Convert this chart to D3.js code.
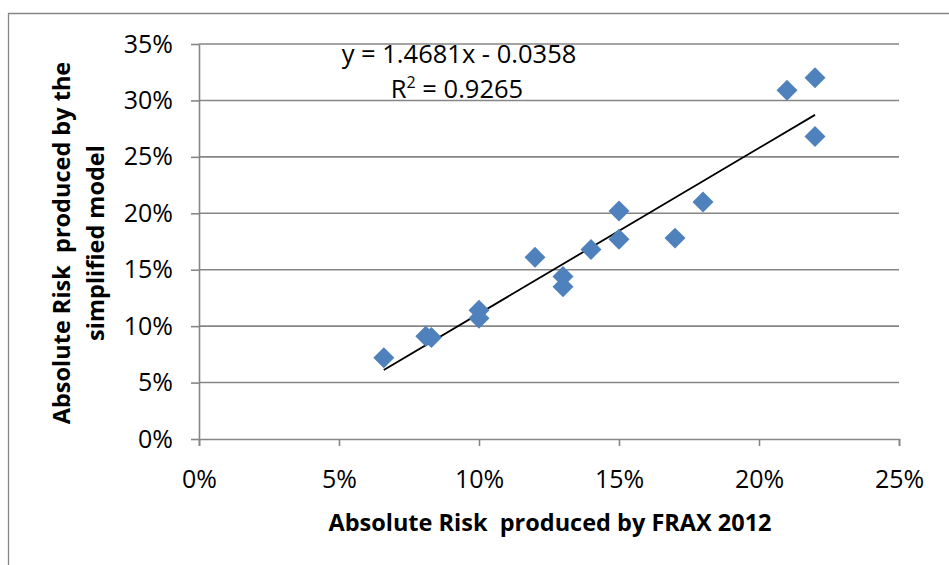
<!DOCTYPE html>
<html>
<head>
<meta charset="utf-8">
<script src="https://cdn.jsdelivr.net/npm/d3@7"></script>
<style>
  body { margin: 0; background: #fff; }
  svg { display: block; font-family: 'Open Sans', sans-serif; }
</style>
</head>
<body>
<div id="chart"></div>
<script>
// FRAX 2012 absolute risk vs simplified model (fractions)
const fraxRisk = [0.066, 0.081, 0.083, 0.100, 0.100, 0.120, 0.130, 0.130,
                  0.140, 0.150, 0.150, 0.170, 0.180, 0.210, 0.220, 0.220];
const modelRisk = [0.072, 0.091, 0.090, 0.114, 0.107, 0.161, 0.144, 0.135,
                   0.168, 0.202, 0.177, 0.178, 0.210, 0.309, 0.320, 0.268];
const xTicks = [0, 0.05, 0.10, 0.15, 0.20, 0.25];
const yTicks = [0, 0.05, 0.10, 0.15, 0.20, 0.25, 0.30, 0.35];
const slope = 1.4681;
const intercept = -0.0358;
const equationLabel = 'y = 1.4681x - 0.0358';
const r2Value = '0.9265';
const xTitle = 'Absolute Risk  produced by FRAX 2012';
const yTitleLines = ['Absolute Risk  produced by the', 'simplified model'];

const width = 949, height = 565;
const margin = { top: 44, right: 50, bottom: 126, left: 199 };
const plotW = width - margin.left - margin.right;
const plotH = height - margin.top - margin.bottom;
const gridColor = '#868686';

const svg = d3.select('#chart').append('svg')
    .attr('width', width)
    .attr('height', height);

// chart frame (only left and top edges are inside the picture)
svg.append('path')
    .attr('d', `M8.5,${height} V13.5 H${width}`)
    .attr('fill', 'none')
    .attr('stroke', gridColor)
    .attr('stroke-width', 1.3);

const g = svg.append('g')
    .attr('transform', `translate(${margin.left},${margin.top})`);

const x = d3.scaleLinear().domain([0, 0.25]).range([0, plotW]);
const y = d3.scaleLinear().domain([0, 0.35]).range([plotH, 0]);
const pct = d3.format('.0%');

// horizontal grid
g.append('g')
    .selectAll('line')
    .data(yTicks.filter(d => d > 0))
    .enter()
    .append('line')
    .attr('x1', 0)
    .attr('x2', plotW)
    .attr('y1', d => y(d))
    .attr('y2', d => y(d))
    .attr('stroke', gridColor)
    .attr('stroke-width', 1.6);

// axes
const styleAxis = sel => {
    sel.select('.domain').attr('stroke', gridColor).attr('stroke-width', 1.6);
    sel.selectAll('.tick line').attr('stroke', gridColor).attr('stroke-width', 1.6);
    sel.selectAll('text')
        .attr('fill', '#000')
        .style('font-family', "'Open Sans', sans-serif")
        .style('font-size', '25px');
};

g.append('g')
    .attr('transform', `translate(0,${plotH})`)
    .call(d3.axisBottom(x).tickValues(xTicks).tickFormat(pct).tickSizeInner(7).tickSizeOuter(7).tickPadding(24))
    .call(styleAxis);

g.append('g')
    .call(d3.axisLeft(y).tickValues(yTicks).tickFormat(pct).tickSizeInner(8).tickSizeOuter(0).tickPadding(18))
    .call(styleAxis);

// linear trendline over the data range
const xExtent = d3.extent(fraxRisk);
g.append('line')
    .attr('x1', x(xExtent[0]))
    .attr('y1', y(slope * xExtent[0] + intercept))
    .attr('x2', x(xExtent[1]))
    .attr('y2', y(slope * xExtent[1] + intercept))
    .attr('stroke', '#000')
    .attr('stroke-width', 1.8);

// diamond markers
const diamond = d3.symbol().type(d3.symbolSquare).size(220);
g.append('g')
    .selectAll('path')
    .data(fraxRisk.map((v, i) => [v, modelRisk[i]]))
    .enter()
    .append('path')
    .attr('d', diamond)
    .attr('transform', d => `translate(${x(d[0])},${y(d[1])}) rotate(45)`)
    .attr('fill', '#4F81BD');

// trendline equation
const eq = svg.append('g')
    .style('font-family', "'Open Sans', sans-serif")
    .style('font-size', '25.5px')
    .attr('text-anchor', 'middle');
eq.append('text')
    .attr('x', 459)
    .attr('y', 63)
    .text(equationLabel);
const r2 = eq.append('text')
    .attr('x', 457)
    .attr('y', 98);
r2.append('tspan').text('R');
r2.append('tspan').attr('font-size', '16px').attr('dy', -10).text('2');
r2.append('tspan').attr('dy', 10).text(' = ' + r2Value);

// axis titles
svg.append('text')
    .attr('x', 550)
    .attr('y', 531)
    .attr('text-anchor', 'middle')
    .style('font-size', '23.5px')
    .style('font-weight', 'bold')
    .style('white-space', 'pre')
    .text(xTitle);

const yTitle = svg.append('text')
    .attr('transform', 'translate(0,243) rotate(-90)')
    .attr('text-anchor', 'middle')
    .style('font-size', '23.5px')
    .style('font-weight', 'bold')
    .style('white-space', 'pre');
yTitleLines.forEach((line, i) => {
    yTitle.append('tspan')
        .attr('x', 0)
        .attr('y', 70 + i * 34)
        .text(line);
});
</script>
</body>
</html>
